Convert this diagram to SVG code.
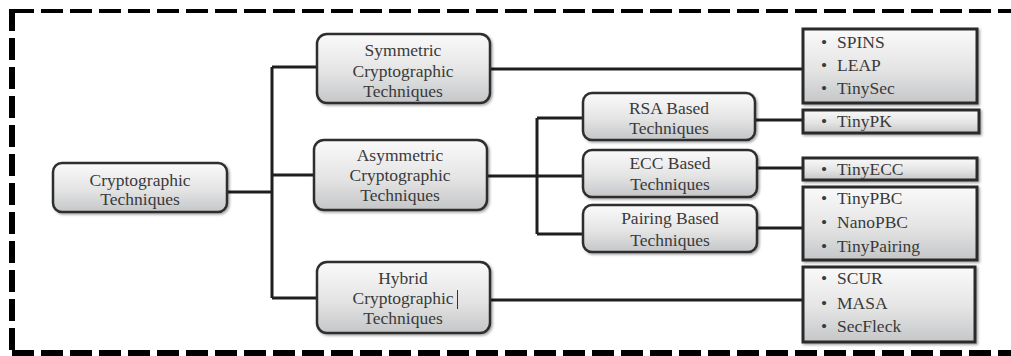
<svg xmlns="http://www.w3.org/2000/svg" width="1011" height="356" viewBox="0 0 1011 356" font-family="'Liberation Serif', 'DejaVu Serif', serif">
  <defs>
    <linearGradient id="boxFill" x1="0" y1="0" x2="0" y2="1">
      <stop offset="0" stop-color="#fafafa"/>
      <stop offset="0.55" stop-color="#e4e4e4"/>
      <stop offset="1" stop-color="#c4c6c8"/>
    </linearGradient>
    <filter id="shadow" x="-5%" y="-10%" width="115%" height="130%">
      <feDropShadow dx="1.5" dy="1.5" stdDeviation="1" flood-color="#000" flood-opacity="0.35"/>
    </filter>
  </defs>
  <style>
    .frame { fill: none; stroke: #000; stroke-dasharray: 22 7; }
    .node { fill: url(#boxFill); stroke: #2e2e2e; stroke-width: 2.5; filter: url(#shadow); }
    .list { fill: url(#boxFill); stroke: #2a2a2a; stroke-width: 3; filter: url(#shadow); }
    .wire { fill: none; stroke: #1e1e1e; stroke-width: 3; }
    .t { font-family: 'Liberation Serif', 'DejaVu Serif', serif; font-size: 17.5px; fill: #3a3a3a; }
    .c { text-anchor: middle; }
  </style>

  <!-- dashed outer frame -->
  <g id="frame">
    <line class="frame" x1="12" y1="11" x2="1011" y2="11" stroke-width="4"/>
    <line class="frame" x1="12" y1="9" x2="12" y2="350" stroke-width="6"/>
    <line class="frame" x1="12" y1="353" x2="1011" y2="353" stroke-width="6"/>
  </g>

  <!-- connectors -->
  <g id="connectors">
    <path class="wire" d="M227 192 H272 M272 67 V298 M272 67 H317 M272 175 H314 M272 298 H317"/>
    <path class="wire" d="M490 69 H803"/>
    <path class="wire" d="M487 176 H537 M537 118 V234 M537 118 H583 M537 176 H583 M537 234 H583"/>
    <path class="wire" d="M755 120 H803 M757 168 H803 M757 228 H803"/>
    <path class="wire" d="M490 300 H803"/>
  </g>

  <g id="root" class="t">
    <rect class="node" x="53" y="163" width="174" height="49" rx="9"/>
    <text class="c" x="140" y="186">Cryptographic</text>
    <text class="c" x="140" y="205">Techniques</text>
  </g>

  <g id="symmetric" class="t">
    <rect class="node" x="317" y="34" width="173" height="69" rx="10"/>
    <text class="c" x="403" y="56">Symmetric</text>
    <text class="c" x="403" y="77">Cryptographic</text>
    <text class="c" x="403" y="97">Techniques</text>
  </g>

  <g id="asymmetric" class="t">
    <rect class="node" x="314" y="140" width="173" height="70" rx="10"/>
    <text class="c" x="400" y="161">Asymmetric</text>
    <text class="c" x="400" y="181">Cryptographic</text>
    <text class="c" x="400" y="201">Techniques</text>
  </g>

  <g id="hybrid" class="t">
    <rect class="node" x="317" y="262" width="173" height="71" rx="10"/>
    <text class="c" x="403" y="284">Hybrid</text>
    <text class="c" x="403" y="304">Cryptographic</text>
    <text class="c" x="403" y="324">Techniques</text>
    <line x1="457.5" y1="290" x2="457.5" y2="309" stroke="#333" stroke-width="1"/>
  </g>

  <g id="rsa" class="t">
    <rect class="node" x="583" y="93" width="172" height="47" rx="9"/>
    <text class="c" x="669" y="114">RSA Based</text>
    <text class="c" x="669" y="134">Techniques</text>
  </g>

  <g id="ecc" class="t">
    <rect class="node" x="583" y="150" width="174" height="47" rx="9"/>
    <text class="c" x="670" y="169">ECC Based</text>
    <text class="c" x="670" y="190">Techniques</text>
  </g>

  <g id="pairing" class="t">
    <rect class="node" x="583" y="205" width="174" height="47" rx="9"/>
    <text class="c" x="670" y="224">Pairing Based</text>
    <text class="c" x="670" y="246">Techniques</text>
  </g>

  <g id="symmetric-list" class="t">
    <rect class="list" x="803" y="29" width="174" height="74"/>
    <text x="821" y="48">•</text><text x="837" y="48">SPINS</text>
    <text x="821" y="71">•</text><text x="837" y="71">LEAP</text>
    <text x="821" y="94">•</text><text x="837" y="94">TinySec</text>
  </g>

  <g id="rsa-list" class="t">
    <rect class="list" x="803" y="110" width="176" height="23"/>
    <text x="821" y="127">•</text><text x="837" y="127">TinyPK</text>
  </g>

  <g id="ecc-list" class="t">
    <rect class="list" x="803" y="158" width="174" height="22"/>
    <text x="821" y="175">•</text><text x="837" y="175">TinyECC</text>
  </g>

  <g id="pairing-list" class="t">
    <rect class="list" x="803" y="187" width="174" height="73"/>
    <text x="821" y="204">•</text><text x="837" y="204">TinyPBC</text>
    <text x="821" y="228">•</text><text x="837" y="228">NanoPBC</text>
    <text x="821" y="252">•</text><text x="837" y="252">TinyPairing</text>
  </g>

  <g id="hybrid-list" class="t">
    <rect class="list" x="803" y="267" width="172" height="75"/>
    <text x="821" y="284">•</text><text x="837" y="284">SCUR</text>
    <text x="821" y="309">•</text><text x="837" y="309">MASA</text>
    <text x="821" y="332">•</text><text x="837" y="332">SecFleck</text>
  </g>
</svg>
